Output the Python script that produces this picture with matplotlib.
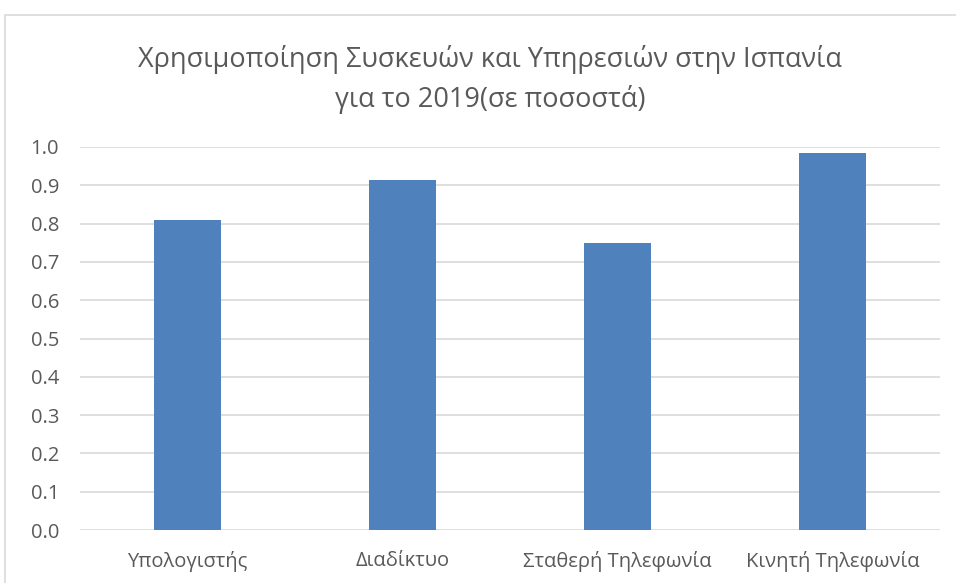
import matplotlib
matplotlib.use("Agg")
import matplotlib.pyplot as plt
from matplotlib.patches import Rectangle

categories = ["Υπολογιστής", "Διαδίκτυο", "Σταθερή Τηλεφωνία", "Κινητή Τηλεφωνία"]
values = [0.81, 0.913, 0.75, 0.984]
yticks = [0.0, 0.1, 0.2, 0.3, 0.4, 0.5, 0.6, 0.7, 0.8, 0.9, 1.0]
title = "Χρησιμοποίηση Συσκευών και Υπηρεσιών στην Ισπανία\nγια το 2019(σε ποσοστά)"

plt.rcParams['font.family'] = ['Open Sans', 'DejaVu Sans']
W, H = 956, 583
fig = plt.figure(figsize=(W / 100, H / 100), dpi=100)
fig.patch.set_facecolor("white")

# chart frame border
fig.add_artist(Rectangle((5 / W, -0.1), 1.2, 1 - 15 / H + 0.1, transform=fig.transFigure,
                         fill=False, edgecolor="#D9D9D9", linewidth=1.2))

ax = fig.add_axes([80 / W, 1 - 530 / H, 860 / W, 383 / H])
x = range(len(categories))
ax.bar(x, values, width=0.31, color="#4F81BD", zorder=3)
ax.set_xlim(-0.5, len(categories) - 0.5)
ax.set_ylim(0, 1.0)
ax.set_yticks(yticks)
ax.set_yticklabels([f"{v:.1f}" for v in yticks])
ax.set_xticks(list(x))
ax.set_xticklabels(categories)
ax.yaxis.grid(True, color="#D9D9D9", linewidth=1.2, zorder=0)
ax.xaxis.grid(False)
for s in ax.spines.values():
    s.set_visible(False)
ax.tick_params(axis="both", length=0, labelsize=14.5, labelcolor="#595959")
ax.tick_params(axis="y", pad=15)
ax.tick_params(axis="x", pad=15)
for lbl in ax.get_yticklabels():
    lbl.set_horizontalalignment("right")

fig.text(490 / W, 1 - 79 / H, title, ha="center", va="center",
         fontsize=19.5, color="#595959", linespacing=1.5)

fig.savefig("out.png", dpi=100, facecolor="white")
